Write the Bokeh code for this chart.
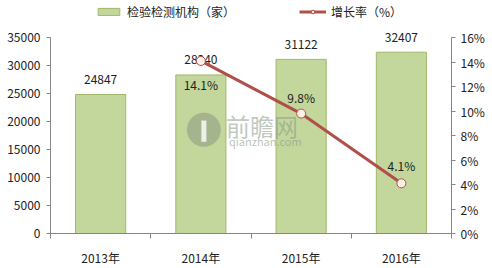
from bokeh.plotting import figure
from bokeh.models import (Range1d, LinearAxis, FixedTicker, NumeralTickFormatter,
                          ColumnDataSource, Legend, LegendItem)
from bokeh.embed import file_html
from bokeh.resources import INLINE
from bokeh.core.properties import value

years = ["2013年", "2014年", "2015年", "2016年"]
institutions = [24847, 28340, 31122, 32407]
growth_years = ["2014年", "2015年", "2016年"]
growth = [0.141, 0.098, 0.041]
growth_labels = ["14.1%", "9.8%", "4.1%"]
growth_label_offsets = [24, -16, -18]
left_ticks = list(range(0, 35001, 5000))
right_ticks = [i / 100 for i in range(0, 17, 2)]

FONT = "Noto Sans CJK SC"
xs = [i + 0.5 for i in range(len(years))]
gx = [years.index(y) + 0.5 for y in growth_years]

# frame spans the full height above the x axis; axes are bounded to their tick span
FRAME_H, AXIS_H = 238, 200
left_end = left_ticks[-1] * FRAME_H / AXIS_H
right_end = right_ticks[-1] * FRAME_H / AXIS_H

p = figure(width=492, height=268, output_backend="svg", toolbar_location=None,
           x_range=Range1d(0, 4), y_range=Range1d(0, left_end),
           min_border_left=50, min_border_right=41, min_border_top=0, min_border_bottom=30)
p.extra_y_ranges = {"pct": Range1d(0, right_end)}
p.xgrid.visible = False
p.ygrid.visible = False
p.outline_line_color = None
p.background_fill_color = "white"

bsrc = ColumnDataSource(dict(x=xs, top=institutions, lab=[str(v) for v in institutions]))
bars = p.vbar(x="x", top="top", width=0.5, source=bsrc, fill_color="#c3d69b",
              line_color="#9fb86a", line_width=1)
p.text(x="x", y="top", text="lab", source=bsrc, y_offset=-15, text_align="center",
       text_baseline="middle", text_font=value(FONT), text_font_size="12px", text_color="#222222")

# watermark
p.scatter(x=[1.53], y=[18550], size=34, fill_color="#7f8f7f", fill_alpha=0.45, line_color=None)
p.rect(x=[1.53], y=[18300], width=0.05, height=3800, fill_color="white", fill_alpha=0.8,
       line_color=None)
p.text(x=[1.75], y=[19250], text=["前瞻网"], text_font=value(FONT), text_font_size="24px",
       text_color="#8a9a8a", text_alpha=0.55, text_baseline="middle")
p.text(x=[1.78], y=[16600], text=["qianzhan.com"], text_font=value(FONT), text_font_size="11px",
       text_color="#8a9a8a", text_alpha=0.6, text_baseline="middle")

gsrc = ColumnDataSource(dict(x=gx, y=growth, lab=growth_labels, off=growth_label_offsets))
ln = p.line(x="x", y="y", source=gsrc, y_range_name="pct", line_color="#b0504a", line_width=3)
mk = p.scatter(x="x", y="y", source=gsrc, y_range_name="pct", size=9, fill_color="#fdf2e6",
               line_color="#b0504a", line_width=1)
p.text(x="x", y="y", text="lab", source=gsrc, y_range_name="pct", y_offset="off",
       text_align="center", text_baseline="middle", text_font=value(FONT),
       text_font_size="12px", text_color="#222222")

axis_color = "#868686"
xa = p.xaxis[0]
xa.ticker = FixedTicker(ticks=xs, minor_ticks=[0, 1, 2, 3, 4])
xa.major_label_overrides = {x: y for x, y in zip(xs, years)}
xa.major_tick_out = 0
xa.major_tick_in = 0
xa.minor_tick_out = 5
xa.minor_tick_in = 0
xa.minor_tick_line_color = axis_color
xa.axis_line_color = axis_color
xa.major_label_standoff = 10
xa.major_label_text_font = FONT
xa.major_label_text_font_size = "12px"
xa.major_label_text_color = "#222222"

ya = p.yaxis[0]
ya.ticker = FixedTicker(ticks=left_ticks)
ya.bounds = (left_ticks[0], left_ticks[-1])
ya.axis_line_color = axis_color
ya.major_tick_line_color = axis_color
ya.major_tick_out = 4
ya.major_tick_in = 0
ya.minor_tick_line_color = None
ya.major_label_standoff = 6
ya.major_label_text_font = FONT
ya.major_label_text_font_size = "12px"
ya.major_label_text_color = "#222222"

ra = LinearAxis(y_range_name="pct", ticker=FixedTicker(ticks=right_ticks),
                formatter=NumeralTickFormatter(format="0%"),
                bounds=(right_ticks[0], right_ticks[-1]))
ra.axis_line_color = axis_color
ra.major_tick_line_color = axis_color
ra.major_tick_out = 4
ra.major_tick_in = 0
ra.minor_tick_line_color = None
ra.major_label_standoff = 5
ra.major_label_text_font = FONT
ra.major_label_text_font_size = "12px"
ra.major_label_text_color = "#222222"
p.add_layout(ra, "right")

legend = Legend(items=[LegendItem(label="检验检测机构（家）", renderers=[bars]),
                       LegendItem(label="增长率（%）", renderers=[ln, mk])],
                orientation="horizontal", location=(45, 213),
                glyph_width=27, glyph_height=9, label_standoff=5, spacing=64,
                padding=0, margin=0, border_line_color=None, background_fill_alpha=0,
                label_text_font=FONT, label_text_font_size="12px", label_text_color="#222222",
                label_height=14)
p.add_layout(legend, "center")

open("out.html", "w").write(file_html(p, INLINE))
